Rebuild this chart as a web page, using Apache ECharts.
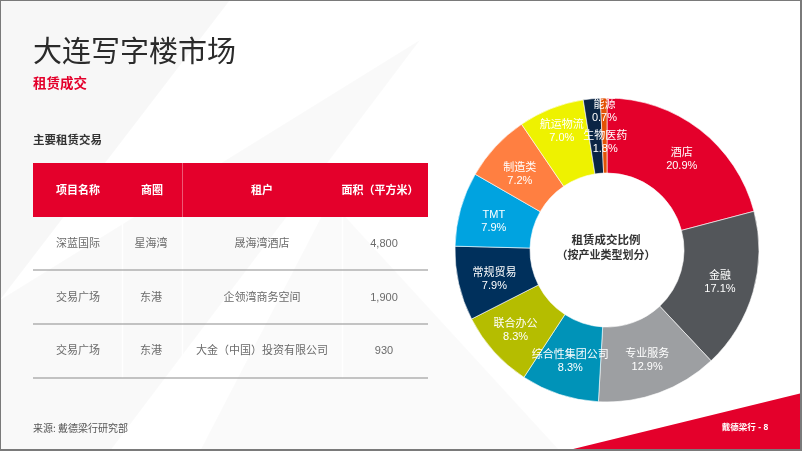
<!DOCTYPE html>
<html>
<head>
<meta charset="utf-8">
<script src="https://cdn.jsdelivr.net/npm/echarts@6/dist/echarts.min.js"></script>
<style>
html,body{margin:0;padding:0;background:#fff;}
#c{width:802px;height:451px;}
</style>
</head>
<body>
<div id="c"></div>
<script>
// ---- data ----
const pageTitle = '大连写字楼市场';
const subTitle = '租赁成交';
const tableTitle = '主要租赁交易';
const tableHeaders = ['项目名称', '商圈', '租户', '面积（平方米）'];
const projects = ['深蓝国际', '交易广场', '交易广场'];
const districts = ['星海湾', '东港', '东港'];
const tenants = ['晟海湾酒店', '企领湾商务空间', '大金（中国）投资有限公司'];
const areas = ['4,800', '1,900', '930'];
const sectors = ['酒店', '金融', '专业服务', '综合性集团公司', '联合办公', '常规贸易', 'TMT', '制造类', '航运物流', '生物医药', '能源'];
const shares = [20.9, 17.1, 12.9, 8.3, 8.3, 7.9, 7.9, 7.2, 7.0, 1.8, 0.7];
const centerLines = ['租赁成交比例', '（按产业类型划分）'];
const sourceText = '来源: 戴德梁行研究部';
const pageTag = '戴德梁行 - 8';

// ---- styles ----
const sectorColors = ['#e4002b', '#53565a', '#9d9fa2', '#0093b8', '#b5bd00', '#00305c', '#00a3e0', '#ff7f41', '#eef200', '#0b2545', '#e35205'];
const cjk = '"Noto Sans CJK SC", sans-serif';
const mixed = '"Liberation Sans", "Noto Sans CJK SC", sans-serif';

const chart = echarts.init(document.getElementById('c'), null, {renderer: 'canvas'});

const g = [];
// background subtle shapes
g.push({type: 'polygon', z: 0, silent: true, shape: {points: [[0, 0], [230, 0], [0, 300]]}, style: {fill: 'rgba(0,0,0,0.03)'}});
g.push({type: 'polygon', z: 0, silent: true, shape: {points: [[0, 300], [420, 40], [110, 451], [0, 451]]}, style: {fill: 'rgba(0,0,0,0.025)'}});
g.push({type: 'polygon', z: 0, silent: true, shape: {points: [[200, 451], [330, 200], [560, 451]]}, style: {fill: 'rgba(0,0,0,0.018)'}});

// texts
function txt(text, x, y, font, fill, align) {
  return {type: 'text', z: 5, silent: true, style: {text: text, x: x, y: y, font: font, fill: fill, textAlign: align || 'left', textVerticalAlign: 'middle', align: align || 'left', verticalAlign: 'middle'}};
}
g.push(txt(pageTitle, 33, 51, '29px ' + cjk, '#2b2b2b'));
g.push(txt(subTitle, 33, 83, 'bold 13.5px ' + cjk, '#e4002b'));
g.push(txt(tableTitle, 33, 140, 'bold 11.5px ' + cjk, '#333'));

// table
const tx0 = 33, tx1 = 428;
const colCenters = [78, 152, 262, 380];
const bodyCenters = [78, 151, 262, 384];
g.push({type: 'rect', z: 3, silent: true, shape: {x: tx0, y: 163, width: tx1 - tx0, height: 54}, style: {fill: '#e4002b'}});
g.push({type: 'line', z: 4, silent: true, shape: {x1: 182.5, y1: 163, x2: 182.5, y2: 217}, style: {stroke: 'rgba(255,255,255,0.35)', lineWidth: 1}});
tableHeaders.forEach(function (h, i) {
  g.push(txt(h, colCenters[i], 190, 'bold 11px ' + cjk, '#fff', 'center'));
});
const rowYs = [244, 298, 351];
const lineYs = [270, 324, 378];
[122.5, 182.5, 342.5].forEach(function (x) {
  g.push({type: 'line', z: 2, silent: true, shape: {x1: x, y1: 217, x2: x, y2: 378}, style: {stroke: 'rgba(255,255,255,0.9)', lineWidth: 1.5}});
});
lineYs.forEach(function (y) {
  g.push({type: 'line', z: 3, silent: true, shape: {x1: tx0, y1: y, x2: tx1, y2: y}, style: {stroke: '#8c8c8c', lineWidth: 1.2}});
});
for (let r = 0; r < projects.length; r++) {
  const cells = [projects[r], districts[r], tenants[r], areas[r]];
  cells.forEach(function (c, i) {
    g.push(txt(c, bodyCenters[i], rowYs[r], '11px ' + mixed, '#6b6b6b', 'center'));
  });
}

// donut center text
g.push(txt(centerLines[0], 606, 240, 'bold 11.5px ' + cjk, '#333', 'center'));
g.push(txt(centerLines[1], 606, 255, 'bold 11px ' + cjk, '#333', 'center'));

// footer
g.push({type: 'polygon', z: 1, silent: true, shape: {points: [[565, 451], [802, 393], [802, 451]]}, style: {fill: '#e4002b'}});
g.push(txt(sourceText, 33, 428, '10px ' + cjk, '#555'));
g.push(txt(pageTag, 745, 428, 'bold 8.5px ' + mixed, '#fff', 'center'));

// border
g.push({type: 'line', z: 10, silent: true, shape: {x1: 0, y1: 0.5, x2: 802, y2: 0.5}, style: {stroke: '#7a7a7a', lineWidth: 1}});
g.push({type: 'line', z: 10, silent: true, shape: {x1: 0.5, y1: 0, x2: 0.5, y2: 451}, style: {stroke: '#7a7a7a', lineWidth: 1}});
g.push({type: 'line', z: 10, silent: true, shape: {x1: 801, y1: 0, x2: 801, y2: 451}, style: {stroke: '#7a7a7a', lineWidth: 2}});
g.push({type: 'line', z: 10, silent: true, shape: {x1: 0, y1: 450, x2: 802, y2: 450}, style: {stroke: '#7a7a7a', lineWidth: 2}});

// per-slice label nudges (style only)
const labelNudge = {
  '能源': [0, -21],
  '生物医药': [10, 9],
  '航运物流': [-2, -9],
  '酒店': [3, 3],
  '制造类': [-1, 4],
  'TMT': [0, 3],
  '常规贸易': [2, 3],
  '联合办公': [-4, 2]
};

const pieData = sectors.map(function (name, i) {
  return {name: name, value: shares[i], itemStyle: {color: sectorColors[i]}};
});

chart.setOption({
  animation: false,
  backgroundColor: '#fff',
  graphic: {elements: g},
  series: [{
    type: 'pie',
    z: 2,
    center: [607, 250],
    radius: [77, 152],
    startAngle: 90,
    clockwise: true,
    avoidLabelOverlap: false,
    silent: true,
    itemStyle: {borderColor: '#fff', borderWidth: 0.6},
    label: {
      show: true,
      position: 'inside',
      color: '#fff',
      fontSize: 11,
      lineHeight: 13,
      fontFamily: '"Liberation Sans", "Noto Sans CJK SC", sans-serif',
      formatter: function (p) { return p.name + '\n' + p.value.toFixed(1) + '%'; }
    },
    labelLayout: function (params) {
      const n = sectors[params.dataIndex];
      const d = labelNudge[n];
      if (d) return {dx: d[0], dy: d[1]};
      return {};
    },
    labelLine: {show: false},
    data: pieData
  }]
});
</script>
</body>
</html>
